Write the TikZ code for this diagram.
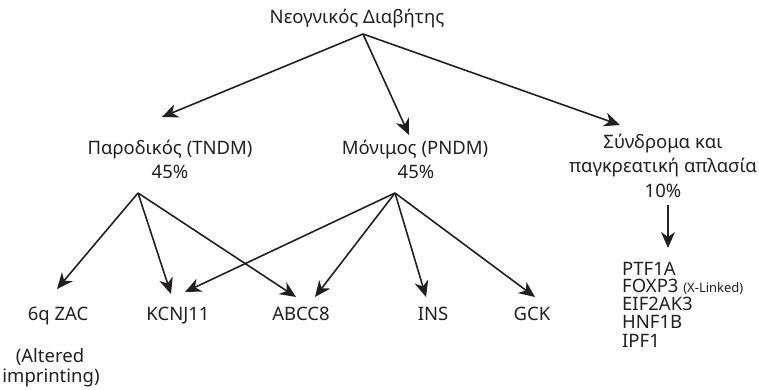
\documentclass[tikz,border=0pt]{standalone}
\usepackage{fontspec}
\setmainfont{Noto Sans}
\usetikzlibrary{arrows.meta}
\definecolor{ink}{HTML}{231F20}
\begin{document}
\begin{tikzpicture}[x=1pt,y=-1pt,
  lbl/.style={anchor=base,inner sep=0pt,text=ink,font=\fontsize{18.5}{20}\selectfont},
  lst/.style={anchor=base west,inner sep=0pt,text=ink,font=\fontsize{18.5}{20}\selectfont},
  arr/.style={draw=ink,line width=1.6pt,-{Stealth[length=16pt,width=14pt,inset=5pt]}}]
\useasboundingbox (0,0) rectangle (759,390);
% texts
\node[lbl] (root) at (357,24) {Νεογνικός Διαβήτης};
\node[lbl] (tndm) at (170,155) {Παροδικός (TNDM)};
\node[lbl] (tndmp) at (170,178) {45\%};
\node[lbl] (pndm) at (415,155) {Μόνιμος (PNDM)};
\node[lbl] (pndmp) at (416,178) {45\%};
\node[lbl] (syn1) at (663,149) {Σύνδρομα και};
\node[lbl] (syn2) at (663,172) {παγκρεατική απλασία};
\node[lbl] (synp) at (663,197) {10\%};
\node[lbl] (zac) at (58,320) {6q ZAC};
\node[lbl] (alt1) at (50,362) {(Altered};
\node[lbl] (alt2) at (51,382) {imprinting)};
\node[lbl] (kcnj) at (178,320) {KCNJ11};
\node[lbl] (abcc) at (301,320) {ABCC8};
\node[lbl] (ins) at (433,320) {INS};
\node[lbl] (gck) at (532,320) {GCK};
\node[lst] (ptf) at (622,275) {PTF1A};
\node[lst] (fox) at (622,292) {FOXP3 {\fontsize{13}{15}\selectfont(X-Linked)}};
\node[lst] (eif) at (622,310) {EIF2AK3};
\node[lst] (hnf) at (622,328) {HNF1B};
\node[lst] (ipf) at (622,347) {IPF1};
% connector points
\coordinate (o) at (363,34);
\coordinate (tT) at (162,117);
\coordinate (tP) at (409,135);
\coordinate (tS) at (620,125);
\coordinate (fT) at (138,193);
\coordinate (fP) at (395,193);
\coordinate (sA) at (668,205);
\coordinate (sB) at (668,248);
\coordinate (zT) at (57,289);
\coordinate (kT) at (171,294);
\coordinate (kP) at (185,292);
\coordinate (aT) at (296,297);
\coordinate (aP) at (315,297);
\coordinate (iP) at (426,297);
\coordinate (gP) at (535,297);
% connectors
\draw[arr] (o) -- (tT);
\draw[arr] (o) -- (tP);
\draw[arr] (o) -- (tS);
\draw[arr] (fT) -- (zT);
\draw[arr] (fT) -- (kT);
\draw[arr] (fT) -- (aT);
\draw[arr] (fP) -- (kP);
\draw[arr] (fP) -- (aP);
\draw[arr] (fP) -- (iP);
\draw[arr] (fP) -- (gP);
\draw[arr] (sA) -- (sB);
\end{tikzpicture}
\end{document}
